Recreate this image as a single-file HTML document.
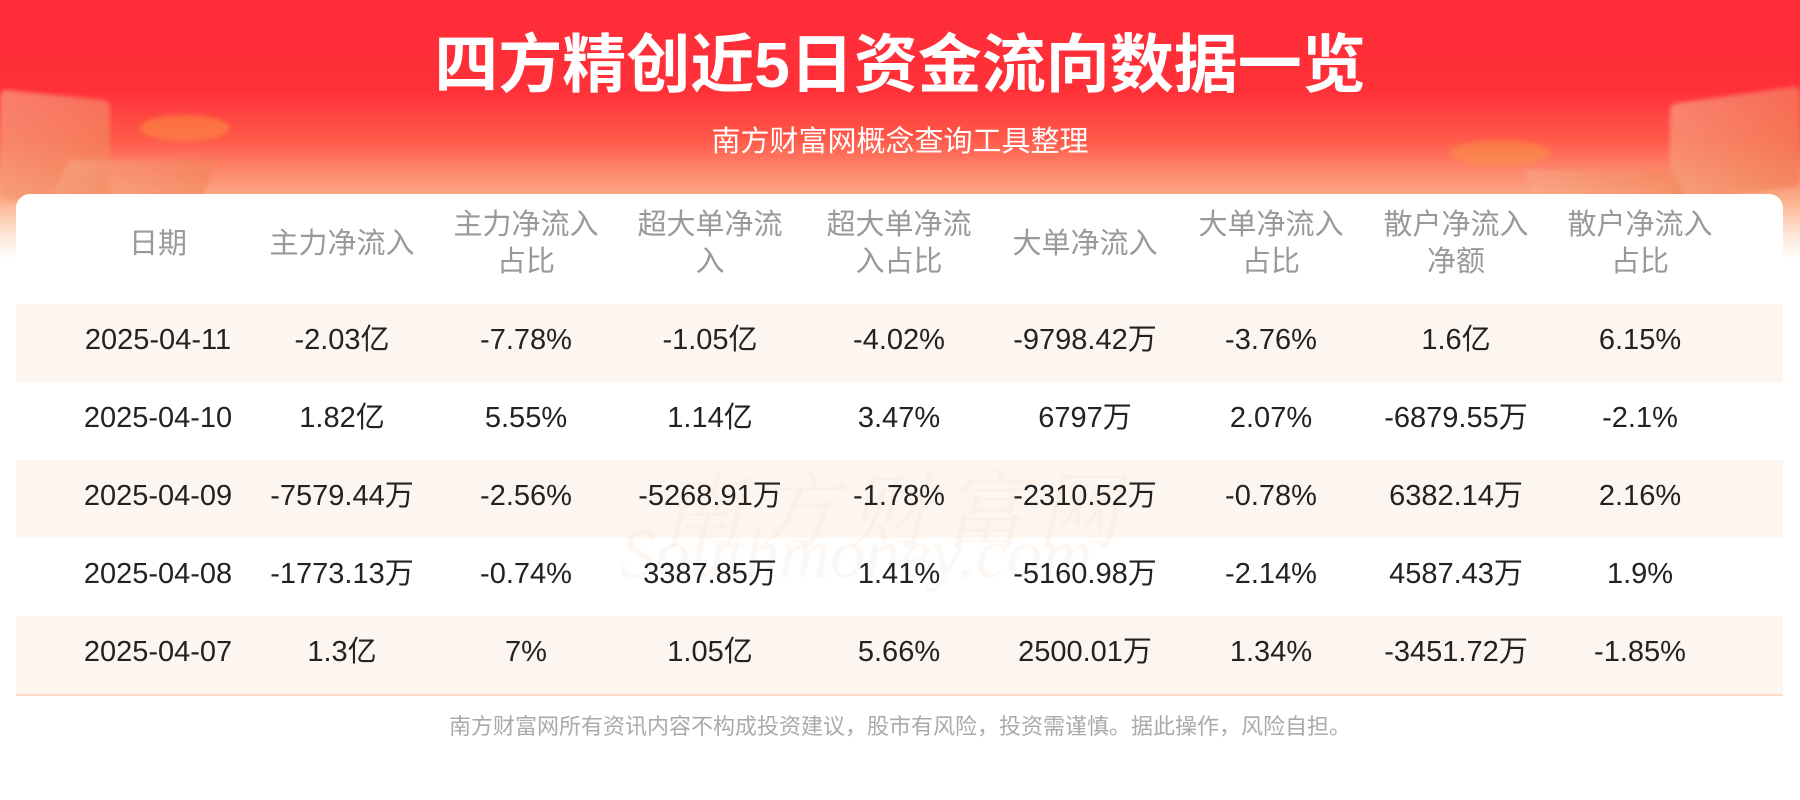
<!DOCTYPE html>
<html><head><meta charset="utf-8"><style>
*{margin:0;padding:0;box-sizing:border-box}
body{width:1800px;height:800px;background:#fff;position:relative;overflow:hidden;font-family:"Liberation Sans","Noto Sans CJK SC",sans-serif}
.hdr{position:absolute;left:0;top:0;width:1800px;height:260px;background:linear-gradient(180deg,#ff2c38 0px,#ff3038 90px,#ff5a4a 140px,#fbb08a 200px,#fde6d8 235px,#ffffff 260px)}
.deco{position:absolute;background:linear-gradient(135deg,#f8b090,#ef7a4c);opacity:.6;filter:blur(2px)}
.title{position:absolute;top:25px;left:0;width:1800px;text-align:center;color:#fff;font-weight:bold;font-size:64px;line-height:80px}
.sub{position:absolute;top:124px;left:0;width:1800px;text-align:center;color:#fff;font-size:29px;line-height:36px}
.card{position:absolute;left:16px;top:194px;width:1767px;height:520px;background:#fff;border-radius:14px}
.row{position:absolute;left:16px;width:1767px;height:78px}
.alt{background:#fdf6f0}
.c{position:absolute;width:184px;text-align:center;transform:translateX(-92px);font-size:29px;line-height:36px;height:36px;color:#222;white-space:nowrap}
.h{color:#999;font-size:29px;line-height:37px;height:auto}
.line{position:absolute;left:16px;top:694px;width:1767px;height:2px;background:#fbd9c4}
.foot{position:absolute;top:713px;left:0;width:1800px;text-align:center;color:#aaa;font-size:22px;line-height:28px}
.wm{position:absolute;left:660px;top:445px;font-size:84px;color:rgba(240,200,170,.14);font-family:"Liberation Serif","Noto Serif CJK SC",serif;letter-spacing:10px;font-style:italic}
.wm2{position:absolute;left:620px;top:515px;font-size:70px;color:rgba(240,200,170,.14);font-family:"Liberation Serif",serif;font-style:italic}
</style></head><body>
<div class="hdr"></div>
<div class="deco" style="left:0;top:95px;width:110px;height:110px;transform:skewY(6deg);border-radius:6px"></div>
<div class="deco" style="left:60px;top:160px;width:150px;height:40px;transform:skewX(-25deg);opacity:.45"></div>
<div class="deco" style="left:140px;top:115px;width:90px;height:26px;border-radius:50%;background:#f9a040;opacity:.45"></div>
<div class="deco" style="left:1670px;top:95px;width:130px;height:100px;transform:skewY(-8deg);border-radius:6px"></div>
<div class="deco" style="left:1530px;top:170px;width:150px;height:30px;transform:skewX(25deg);opacity:.45"></div>
<div class="deco" style="left:1450px;top:140px;width:100px;height:26px;border-radius:50%;background:#f9a040;opacity:.4"></div>
<div class="title">四方精创近5日资金流向数据一览</div>
<div class="sub">南方财富网概念查询工具整理</div>
<div class="card"></div>

<div class="c h" style="left:158px;top:226px">日期</div>
<div class="c h" style="left:342px;top:226px">主力净流入</div>
<div class="c h" style="left:526px;top:207px">主力净流入<br>占比</div>
<div class="c h" style="left:710px;top:207px">超大单净流<br>入</div>
<div class="c h" style="left:899px;top:207px">超大单净流<br>入占比</div>
<div class="c h" style="left:1085px;top:226px">大单净流入</div>
<div class="c h" style="left:1271px;top:207px">大单净流入<br>占比</div>
<div class="c h" style="left:1456px;top:207px">散户净流入<br>净额</div>
<div class="c h" style="left:1640px;top:207px">散户净流入<br>占比</div>

<div class="row alt" style="top:304px"></div>
<div class="row" style="top:382px"></div>
<div class="row alt" style="top:460px"></div>
<div class="row" style="top:538px"></div>
<div class="row alt" style="top:616px"></div>
<div class="wm">南方财富网</div>
<div class="wm2">Southmoney.com</div>
<div class="line"></div>

<div style="position:absolute;top:322px;left:0">
<div class="c" style="left:158px">2025-04-11</div><div class="c" style="left:342px">-2.03亿</div><div class="c" style="left:526px">-7.78%</div><div class="c" style="left:710px">-1.05亿</div><div class="c" style="left:899px">-4.02%</div><div class="c" style="left:1085px">-9798.42万</div><div class="c" style="left:1271px">-3.76%</div><div class="c" style="left:1456px">1.6亿</div><div class="c" style="left:1640px">6.15%</div>
</div>
<div style="position:absolute;top:400px;left:0">
<div class="c" style="left:158px">2025-04-10</div><div class="c" style="left:342px">1.82亿</div><div class="c" style="left:526px">5.55%</div><div class="c" style="left:710px">1.14亿</div><div class="c" style="left:899px">3.47%</div><div class="c" style="left:1085px">6797万</div><div class="c" style="left:1271px">2.07%</div><div class="c" style="left:1456px">-6879.55万</div><div class="c" style="left:1640px">-2.1%</div>
</div>
<div style="position:absolute;top:478px;left:0">
<div class="c" style="left:158px">2025-04-09</div><div class="c" style="left:342px">-7579.44万</div><div class="c" style="left:526px">-2.56%</div><div class="c" style="left:710px">-5268.91万</div><div class="c" style="left:899px">-1.78%</div><div class="c" style="left:1085px">-2310.52万</div><div class="c" style="left:1271px">-0.78%</div><div class="c" style="left:1456px">6382.14万</div><div class="c" style="left:1640px">2.16%</div>
</div>
<div style="position:absolute;top:556px;left:0">
<div class="c" style="left:158px">2025-04-08</div><div class="c" style="left:342px">-1773.13万</div><div class="c" style="left:526px">-0.74%</div><div class="c" style="left:710px">3387.85万</div><div class="c" style="left:899px">1.41%</div><div class="c" style="left:1085px">-5160.98万</div><div class="c" style="left:1271px">-2.14%</div><div class="c" style="left:1456px">4587.43万</div><div class="c" style="left:1640px">1.9%</div>
</div>
<div style="position:absolute;top:634px;left:0">
<div class="c" style="left:158px">2025-04-07</div><div class="c" style="left:342px">1.3亿</div><div class="c" style="left:526px">7%</div><div class="c" style="left:710px">1.05亿</div><div class="c" style="left:899px">5.66%</div><div class="c" style="left:1085px">2500.01万</div><div class="c" style="left:1271px">1.34%</div><div class="c" style="left:1456px">-3451.72万</div><div class="c" style="left:1640px">-1.85%</div>
</div>
<div class="foot">南方财富网所有资讯内容不构成投资建议，股市有风险，投资需谨慎。据此操作，风险自担。</div>
</body></html>
